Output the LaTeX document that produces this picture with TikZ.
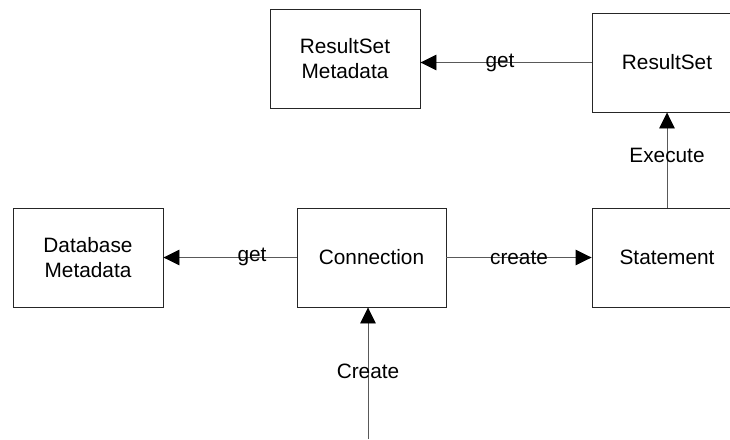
\documentclass[tikz,border=0pt]{standalone}
\usepackage{fontspec}
\setmainfont{Liberation Sans}
\usetikzlibrary{arrows.meta}
\begin{document}
\begin{tikzpicture}[x=1pt,y=-1pt,
  box/.style={draw=black!85,line width=0.9pt,rectangle,minimum width=150pt,minimum height=99pt,align=center,inner sep=0pt,font=\fontsize{20.8}{25}\selectfont},
  conn/.style={draw=black!65,line width=0.9pt,-{Triangle[length=16pt,width=15.5pt,black]}},
  lbl/.style={anchor=base,inner sep=0pt,font=\fontsize{20.8}{25}\selectfont}]
\useasboundingbox (0,0) rectangle (730,439);
\node[box] (rsm) at (345,59) {ResultSet\\Metadata};
\node[box] (rs) at (667,62.5) {ResultSet};
\node[box] (dbm) at (88,257.5) {Database\\Metadata};
\node[box,minimum width=149pt] (con) at (371.5,257.5) {Connection};
\node[box] (st) at (667,257.5) {Statement};
\coordinate (src) at (368,439);
\draw[conn] (rs.west) -- (rs.west -| rsm.east);
\draw[conn] (st.north) -- (rs.south);
\draw[conn] (con.west) -- (dbm.east);
\draw[conn] (con.east) -- (st.west);
\draw[conn] (src) -- (src |- con.south);
\node[lbl] (l1) at (500,67) {get};
\node[lbl] (l2) at (667,162) {Execute};
\node[lbl] (l3) at (252,261) {get};
\node[lbl] (l4) at (519,264) {create};
\node[lbl] (l5) at (368,378) {Create};
\end{tikzpicture}
\end{document}
